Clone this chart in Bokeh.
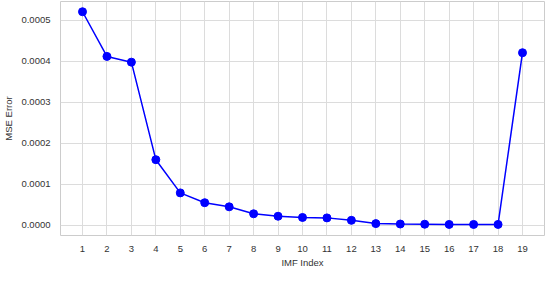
from bokeh.plotting import figure
from bokeh.models import FixedTicker, NumeralTickFormatter, Range1d
from bokeh.embed import file_html
from bokeh.resources import INLINE

imf_index = list(range(1, 20))
mse_error = [0.000521, 0.000412, 0.000398, 0.000160, 0.000079, 0.000055, 0.000045,
             0.000028, 0.000022, 0.000019, 0.000018, 0.000012, 0.000004, 0.000003,
             0.0000025, 0.000002, 0.000002, 0.000002, 0.000421]
y_ticks = [0.0, 0.0001, 0.0002, 0.0003, 0.0004, 0.0005]

FONT = "Liberation Sans"
p = figure(frame_width=484, frame_height=234, output_backend="svg", toolbar_location=None,
           x_range=Range1d(0.1, 19.9), y_range=Range1d(-0.000025, 0.000546),
           min_border_top=1, min_border_right=1, min_border_left=0, min_border_bottom=0)

p.line(imf_index, mse_error, line_color="#0000ff", line_width=1.5)
p.scatter(imf_index, mse_error, size=8, fill_color="#0000ff", line_color="#0000ff")

p.xaxis.ticker = FixedTicker(ticks=imf_index)
p.yaxis.ticker = FixedTicker(ticks=y_ticks)
p.yaxis.formatter = NumeralTickFormatter(format="0.0000")
p.xaxis.axis_label = "IMF Index"
p.yaxis.axis_label = "MSE Error"

for ax in (p.xaxis, p.yaxis):
    ax.axis_line_color = None
    ax.major_tick_line_color = None
    ax.minor_tick_line_color = None
    ax.major_label_text_font = FONT
    ax.major_label_text_font_size = "9.5px"
    ax.major_label_text_color = "#333333"
    ax.axis_label_text_font = FONT
    ax.axis_label_text_font_size = "9.5px"
    ax.axis_label_text_font_style = "normal"
    ax.axis_label_text_color = "#333333"
p.xaxis.major_label_standoff = 4
p.xaxis.axis_label_standoff = 2
p.yaxis.major_label_standoff = 4
p.yaxis.axis_label_standoff = 4

p.grid.grid_line_color = "#dcdcdc"
p.grid.grid_line_width = 1
p.outline_line_color = "#cccccc"
p.background_fill_color = "white"
p.border_fill_color = "white"

open("out.html", "w").write(file_html(p, INLINE))
